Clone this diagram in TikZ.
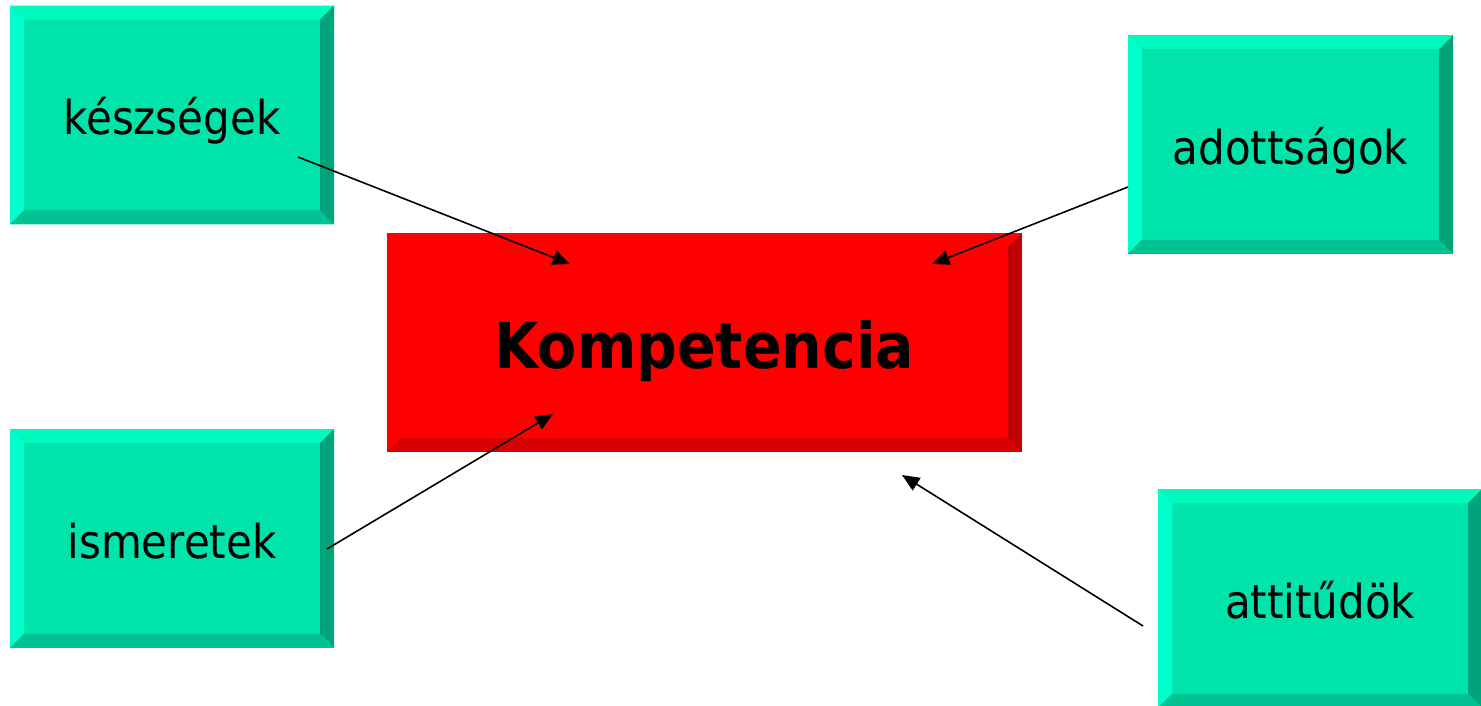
\documentclass[tikz,border=0pt]{standalone}
\usepackage{fontspec}
\setmainfont{DejaVu Sans Condensed}
\usetikzlibrary{arrows.meta}
\definecolor{gface}{RGB}{0,227,170}
\definecolor{gtop}{RGB}{0,250,190}
\definecolor{gleft}{RGB}{0,255,204}
\definecolor{gright}{RGB}{0,163,122}
\definecolor{gbottom}{RGB}{0,194,146}
\definecolor{rface}{RGB}{255,0,0}
\definecolor{rright}{RGB}{192,0,0}
\definecolor{rbottom}{RGB}{216,0,0}
\newcommand{\bevelsides}[6]{%
  \fill[#3] (#1.north west) -- (#1.north east) -- ([xshift=-#2,yshift=-#2]#1.north east) -- ([xshift=#2,yshift=-#2]#1.north west) -- cycle;
  \fill[#4] (#1.north west) -- (#1.south west) -- ([xshift=#2,yshift=#2]#1.south west) -- ([xshift=#2,yshift=-#2]#1.north west) -- cycle;
  \fill[#5] (#1.north east) -- (#1.south east) -- ([xshift=-#2,yshift=#2]#1.south east) -- ([xshift=-#2,yshift=-#2]#1.north east) -- cycle;
  \fill[#6] (#1.south west) -- (#1.south east) -- ([xshift=-#2,yshift=#2]#1.south east) -- ([xshift=#2,yshift=#2]#1.south west) -- cycle;
}
\tikzset{
  gbox/.style={rectangle, fill=gface, draw=none, inner sep=0pt, outer sep=0pt,
    minimum width=243pt, minimum height=164pt, text height=30pt, text depth=0pt,
    font=\fontsize{35}{40}\selectfont},
  rbox/.style={rectangle, fill=rface, draw=none, inner sep=0pt, outer sep=0pt,
    minimum width=476pt, minimum height=164pt, text height=39pt, text depth=0pt,
    font=\fontsize{47.5}{54}\selectfont\bfseries},
  arr/.style={draw=black, line width=1.2pt, -{Triangle[length=13pt,width=11pt]}}
}
\begin{document}
\begin{tikzpicture}[x=0.75pt,y=-0.75pt]
\useasboundingbox (0,0) rectangle (1481,706);
\clip (0,0) rectangle (1481,706);
\fill[white] (0,0) rectangle (1481,706);
% boxes
\node[gbox] (kesz) at (172,115) {készségek};
\bevelsides{kesz}{10.5pt}{gtop}{gleft}{gright}{gbottom}
\node[gbox, minimum width=244pt] (adott) at (1290.5,144.5) {adottságok};
\bevelsides{adott}{10.5pt}{gtop}{gleft}{gright}{gbottom}
\node[gbox] (ismer) at (172,538.5) {ismeretek};
\bevelsides{ismer}{10.5pt}{gtop}{gleft}{gright}{gbottom}
\node[gbox] (attit) at (1320,598.5) {attitűdök};
\bevelsides{attit}{10.5pt}{gtop}{gleft}{gright}{gbottom}
\node[rbox] (komp) at (704.5,342.5) {Kompetencia};
\bevelsides{komp}{10.5pt}{rface}{rface}{rright}{rbottom}
% arrow ends
\coordinate (s1) at (298,157);  \coordinate (e1) at (570,264);
\coordinate (s2) at (1128,187); \coordinate (e2) at (932,264);
\coordinate (s3) at (327,549);  \coordinate (e3) at (553,414);
\coordinate (s4) at (1143,626); \coordinate (e4) at (902,475);
\draw[arr] (s1) -- (e1);
\draw[arr] (s2) -- (e2);
\draw[arr] (s3) -- (e3);
\draw[arr] (s4) -- (e4);
\end{tikzpicture}
\end{document}
